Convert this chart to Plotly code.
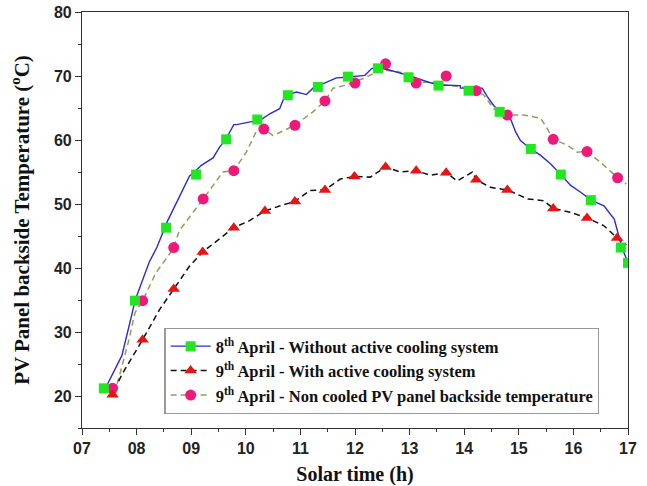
import plotly.graph_objects as go

# ---- 8th April - without active cooling (blue line, green squares) ----
apr8_line_x = [7.44, 7.73, 7.92, 7.97, 8.23, 8.37, 8.57, 8.97, 9.06, 9.18, 9.27, 9.40, 9.52, 9.64,
               9.78, 9.83, 10.13, 10.28, 10.44, 10.62, 10.71, 10.77, 10.93, 11.11, 11.23, 11.48,
               11.66, 11.85, 12.03, 12.18, 12.31, 12.43, 12.64, 12.98, 13.32, 13.53, 13.93, 13.93,
               14.33, 14.42, 14.54, 14.65, 14.85, 14.94, 15.03, 15.22, 15.40, 15.58, 15.77, 15.95,
               16.14, 16.32, 16.56, 16.75, 16.88, 17.0]
apr8_line_y = [21.4, 26.3, 33.0, 34.9, 40.9, 43.2, 47.4, 54.4, 55.0, 56.0, 56.5, 57.2, 58.9, 60.2,
               62.4, 62.4, 62.9, 63.2, 64.1, 64.9, 66.8, 67.1, 67.5, 67.1, 68.1, 69.1,
               69.7, 69.8, 70.0, 70.1, 71.2, 71.3, 70.9, 70.1, 69.1, 68.6, 68.5, 68.1,
               68.1, 66.8, 65.4, 64.4, 63.3, 61.3, 59.9, 58.6, 57.6, 56.3, 54.6, 52.9,
               51.8, 50.6, 49.7, 47.6, 43.4, 40.8]
apr8_mark_x = [7.40, 7.97, 8.54, 9.09, 9.64, 10.21, 10.77, 11.32, 11.87, 12.42, 12.98, 13.53,
               14.08, 14.65, 15.22, 15.77, 16.32, 16.87, 17.0]
apr8_mark_y = [21.2, 34.9, 46.3, 54.6, 60.1, 63.2, 67.0, 68.3, 69.9, 71.2, 69.8, 68.5,
               67.7, 64.4, 58.6, 54.6, 50.6, 43.2, 40.8]

# ---- 9th April - with active cooling (black dashed, red triangles) ----
cool_line_x = [7.59, 7.74, 8.11, 8.42, 8.68, 8.97, 9.21, 9.58, 9.78, 10.07, 10.35, 10.62, 10.90,
               11.17, 11.45, 11.73, 11.99, 12.28, 12.56, 12.83, 13.12, 13.38, 13.67, 13.87, 14.15,
               14.22, 14.48, 14.79, 15.16, 15.46, 15.63, 15.95, 16.25, 16.56, 16.80, 16.97]
cool_line_y = [20.9, 23.5, 28.8, 33.5, 36.7, 40.3, 42.5, 45.0, 46.3, 47.4, 48.9, 49.7, 50.4,
               52.1, 52.2, 53.9, 54.3, 54.2, 55.8, 55.0, 55.2, 54.5, 54.9, 53.6, 55.0,
               53.8, 52.6, 52.2, 50.8, 50.5, 49.3, 48.7, 47.8, 46.6, 44.7, 43.6]
cool_mark_x = [7.56, 8.11, 8.68, 9.21, 9.78, 10.35, 10.90, 11.45, 11.99, 12.56, 13.12, 13.67,
               14.22, 14.79, 15.63, 16.25, 16.80]
cool_mark_y = [20.2, 28.8, 36.7, 42.5, 46.3, 48.9, 50.4, 52.2, 54.3, 55.8, 55.2, 54.9,
               53.8, 52.2, 49.3, 47.8, 44.7]

# ---- 9th April - non cooled PV panel (olive dashed, pink circles) ----
nc_line_x = [7.59, 7.68, 7.86, 7.97, 8.11, 8.35, 8.68, 8.78, 9.22, 9.58, 9.78, 10.01, 10.19,
             10.33, 10.50, 10.90, 11.23, 11.45, 11.60, 11.85, 12.15, 12.42, 12.56, 12.83, 13.12,
             13.38, 13.67, 13.93, 14.22, 14.36, 14.54, 14.79, 15.09, 15.40, 15.52, 15.63, 15.89,
             16.07, 16.25, 16.50, 16.81, 16.97]
nc_line_y = [20.4, 23.0, 28.8, 33.0, 34.9, 39.2, 43.1, 45.8, 50.8, 55.0, 55.2, 58.1, 61.3,
             61.7, 60.7, 62.3, 64.4, 66.1, 68.1, 68.6, 69.6, 70.7, 70.9, 70.6, 68.9,
             69.1, 68.6, 68.3, 67.7, 67.0, 64.9, 63.9, 63.9, 63.4, 61.8, 60.1, 59.2,
             58.1, 58.2, 56.5, 54.1, 53.1]
nc_mark_x = [7.56, 8.11, 8.68, 9.22, 9.78, 10.33, 10.90, 11.45, 12.0, 12.56, 13.12, 13.67,
             14.22, 14.79, 15.63, 16.25, 16.81]
nc_mark_y = [21.2, 34.9, 43.2, 50.8, 55.2, 61.7, 62.3, 66.1, 68.9, 71.9, 68.9, 70.0,
             67.7, 63.9, 60.1, 58.2, 54.1]

x_ticks = [7, 8, 9, 10, 11, 12, 13, 14, 15, 16, 17]
x_tick_text = ["07", "08", "09", "10", "11", "12", "13", "14", "15", "16", "17"]
y_ticks = [20, 30, 40, 50, 60, 70, 80]

names = ["8<sup>th</sup> April - Without active cooling system",
         "9<sup>th</sup> April - With active cooling system",
         "9<sup>th</sup> April - Non cooled PV panel backside temperature"]

BLUE = "#2a2ad8"
GREEN = "#22e622"
BLACK = "#111111"
RED = "#e61414"
OLIVE = "#9a9a5a"
PINK = "#ee1a7a"

fig = go.Figure()

# lines
fig.add_trace(go.Scatter(x=nc_line_x, y=nc_line_y, mode="lines", showlegend=False,
                         line=dict(color=OLIVE, width=1.5, dash="6px,4px")))
fig.add_trace(go.Scatter(x=cool_line_x, y=cool_line_y, mode="lines", showlegend=False,
                         line=dict(color=BLACK, width=1.5, dash="6px,4px")))
fig.add_trace(go.Scatter(x=apr8_line_x, y=apr8_line_y, mode="lines", showlegend=False,
                         line=dict(color=BLUE, width=1.4)))
# markers
fig.add_trace(go.Scatter(x=nc_mark_x, y=nc_mark_y, mode="markers", showlegend=False,
                         marker=dict(symbol="circle", size=11, color=PINK)))
fig.add_trace(go.Scatter(x=cool_mark_x, y=cool_mark_y, mode="markers", showlegend=False,
                         marker=dict(symbol="triangle-up", size=11, color=RED)))
fig.add_trace(go.Scatter(x=apr8_mark_x, y=apr8_mark_y, mode="markers", showlegend=False,
                         marker=dict(symbol="square", size=10, color=GREEN)))

# legend entries
fig.add_trace(go.Scatter(x=[None], y=[None], mode="lines+markers", name=names[0], legendgroup="a",
                         line=dict(color=BLUE, width=1.4),
                         marker=dict(symbol="square", size=10, color=GREEN)))
fig.add_trace(go.Scatter(x=[None], y=[None], mode="lines+markers", name=names[1], legendgroup="b",
                         line=dict(color=BLACK, width=1.5, dash="6px,4px"),
                         marker=dict(symbol="triangle-up", size=11, color=RED)))
fig.add_trace(go.Scatter(x=[None], y=[None], mode="lines+markers", name=names[2], legendgroup="c",
                         line=dict(color=OLIVE, width=1.5, dash="6px,4px"),
                         marker=dict(symbol="circle", size=11, color=PINK)))

axis_common = dict(showgrid=False, zeroline=False, showline=True, linecolor="#333333",
                   linewidth=1.2, mirror=True, ticks="outside", ticklen=6, tickwidth=1.2,
                   tickcolor="#333333", automargin=False,
                   tickfont=dict(family="Liberation Sans", size=16, color="#222222", weight="bold"))

fig.update_xaxes(**axis_common, range=[7, 17], tickvals=x_ticks, ticktext=x_tick_text,
                 ticklabelstandoff=0,
                 minor=dict(ticks="outside", ticklen=3, dtick=0.5, tickcolor="#333333"),
                 title=dict(text="<b>Solar time (h)</b>", standoff=10,
                            font=dict(family="Liberation Serif", size=20, color="#111111")))
fig.update_yaxes(**axis_common, range=[15, 80], tickvals=y_ticks,
                 minor=dict(ticks="outside", ticklen=3, dtick=5, tickcolor="#333333"),
                 title=dict(text="<b>PV Panel backside Temperature (<sup>o</sup>C)</b>", standoff=18,
                            font=dict(family="Liberation Serif", size=21, color="#111111")))

fig.update_layout(
    width=647, height=486,
    margin=dict(l=82, r=19, t=12, b=58),
    plot_bgcolor="white", paper_bgcolor="white",
    legend=dict(x=0.151, y=0.241, xanchor="left", yanchor="top",
                bgcolor="white", bordercolor="#999999", borderwidth=1.2,
                font=dict(family="Liberation Serif", size=16.5, color="#111111", weight="bold"),
                tracegroupgap=0, itemwidth=40),
)

fig.write_html("out.html")
